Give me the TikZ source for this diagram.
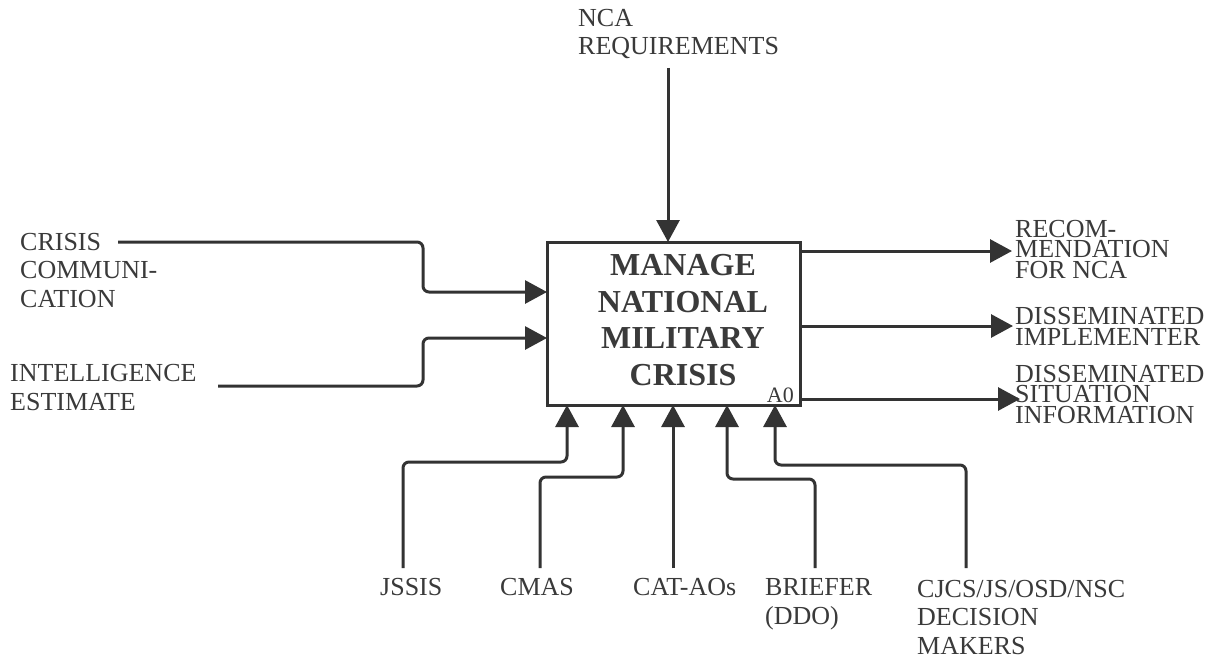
\documentclass[tikz,border=0pt]{standalone}
\usepackage{fontspec}
\setmainfont{Liberation Serif}
\usetikzlibrary{arrows.meta,calc}
\definecolor{linecol}{HTML}{333333}
\definecolor{textcol}{HTML}{3A3A3A}
\begin{document}
\begin{tikzpicture}[x=1pt,y=-1pt,
  flow/.style={draw=linecol,line width=3pt,rounded corners=6pt,-{Triangle[length=22pt,width=23pt]}},
  lbl/.style={inner sep=0pt,anchor=base west,align=left,text=textcol,font=\fontsize{26}{28.5}\selectfont},
  lblr/.style={lbl,font=\fontsize{26}{20.5}\selectfont},
  actbox/.style={draw=linecol,line width=3pt,minimum width=253pt,minimum height=163pt,inner sep=0pt,outer sep=0pt}]
\useasboundingbox[fill=white] (0,0) rectangle (1220,658);
% activity box
\node[actbox] (box) at (673.5,323.5) {};
\node[inner sep=0pt,align=center,text=textcol,font=\fontsize{32}{36.5}\selectfont\bfseries] (title) at (683,320) {MANAGE\\NATIONAL\\MILITARY\\CRISIS};
\node[inner sep=0pt,anchor=base east,text=textcol,font=\fontsize{22}{24}\selectfont] (a0) at (794,402) {A0};
% labels (anchored at the baseline of their last line)
\node[lbl] (nca) at (578,55) {NCA\\REQUIREMENTS};
\node[lbl] (crisis) at (20,307) {CRISIS\\COMMUNI-\\CATION};
\node[lbl] (intel) at (10,410) {INTELLIGENCE\\ESTIMATE};
\node[lblr] (rec) at (1015,278) {RECOM-\\MENDATION\\FOR NCA};
\node[lblr] (impl) at (1015,345) {DISSEMINATED\\IMPLEMENTER};
\node[lblr] (sit) at (1015,423) {DISSEMINATED\\SITUATION\\INFORMATION};
\node[lbl] (jssis) at (380,595) {JSSIS};
\node[lbl] (cmas) at (500,595) {CMAS};
\node[lbl] (cat) at (633,595) {CAT-AOs};
\node[lbl] (brief) at (765,624) {BRIEFER\\(DDO)};
\node[lbl] (cjcs) at (917,654) {CJCS/JS/OSD/NSC\\DECISION\\MAKERS};
% free ends
\coordinate (ncaS) at (668,68);
\coordinate (crisisS) at (118,242);
\coordinate (intelS) at (218,386);
\coordinate (jssisS) at (403,568);
\coordinate (cmasS) at (540,568);
\coordinate (catS) at (673,568);
\coordinate (briefS) at (815,568);
\coordinate (cjcsS) at (966,568);
\coordinate (recE) at (1012,251);
\coordinate (implE) at (1013,326);
\coordinate (sitE) at (1020,399);
% control
\draw[flow] (ncaS) -- ($(box.north west)+(121,0)$);
% inputs
\draw[flow] (crisisS) -| (423,292) -- ($(box.north west)+(0,50)$);
\draw[flow] (intelS) -| (423,338) -- ($(box.north west)+(0,96)$);
% outputs
\draw[flow] ($(box.north east)+(0,9)$) -- (recE);
\draw[flow] ($(box.north east)+(0,84)$) -- (implE);
\draw[flow] ($(box.north east)+(0,157)$) -- (sitE);
% mechanisms
\draw[flow] (jssisS) |- (567,462) -- ($(box.south west)+(20,0)$);
\draw[flow] (cmasS) |- (623,477) -- ($(box.south west)+(76,0)$);
\draw[flow] (catS) -- ($(box.south west)+(126,0)$);
\draw[flow] (briefS) |- (727,479) -- ($(box.south west)+(180,0)$);
\draw[flow] (cjcsS) |- (775,465) -- ($(box.south west)+(228,0)$);
\end{tikzpicture}
\end{document}
